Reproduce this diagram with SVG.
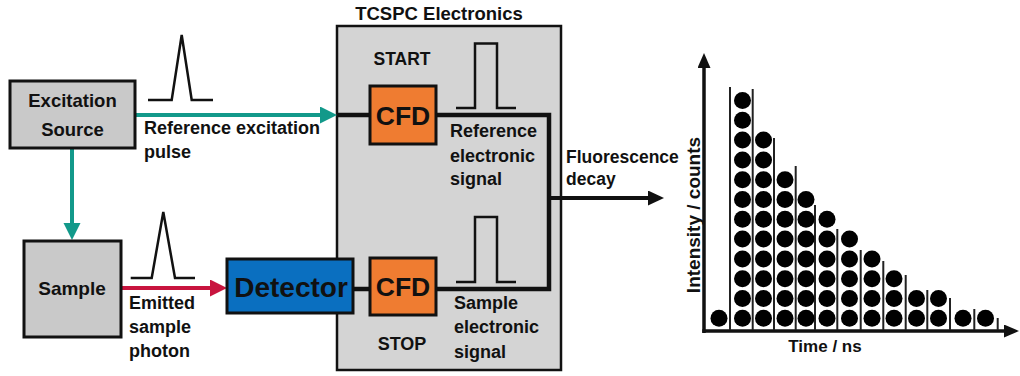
<svg xmlns="http://www.w3.org/2000/svg" width="1020" height="376" viewBox="0 0 1020 376">
<style>
text{font-family:"Liberation Sans",Arial,sans-serif;font-weight:bold;fill:#111;}
.box{stroke:#111;stroke-width:3;}
.gray{fill:#c9c9c9;}
.lbl{font-size:18px;}
.pulse{fill:none;stroke:#111;stroke-width:2.5;stroke-linejoin:miter;}
.sig{fill:none;stroke:#111;stroke-width:4.5;stroke-linejoin:miter;}
.dot{fill:#000;}
.sep{stroke:#222;stroke-width:2;}
</style>
<defs>
<marker id="mTeal" markerUnits="userSpaceOnUse" markerWidth="18" markerHeight="18" refX="9" refY="8.5" orient="auto"><path d="M0,0 L17,8.5 L0,17 Z" fill="#12998a"/></marker>
<marker id="mRed" markerUnits="userSpaceOnUse" markerWidth="18" markerHeight="18" refX="9" refY="8.5" orient="auto"><path d="M0,0 L17,8.5 L0,17 Z" fill="#c8143e"/></marker>
<marker id="mBlk" markerUnits="userSpaceOnUse" markerWidth="18" markerHeight="18" refX="8" refY="7.5" orient="auto"><path d="M0,0 L16,7.5 L0,15 Z" fill="#111"/></marker>
<marker id="mAx" markerUnits="userSpaceOnUse" markerWidth="16" markerHeight="16" refX="7" refY="6.5" orient="auto"><path d="M0,0 L15,6.5 L0,13 Z" fill="#111"/></marker>
</defs>
<rect width="1020" height="376" fill="#fff"/>

<g id="tcspc">
<rect x="337" y="26" width="224" height="344" fill="#d4d4d4" stroke="#111" stroke-width="2.5"/>
<text x="439" y="20" font-size="18.5" text-anchor="middle">TCSPC Electronics</text>
<text x="402" y="65" font-size="17.5" text-anchor="middle">START</text>
<text x="402" y="350" font-size="18" text-anchor="middle">STOP</text>
</g>

<g id="connectors">
<line x1="135" y1="115" x2="329" y2="115" stroke="#12998a" stroke-width="4" marker-end="url(#mTeal)"/>
<line x1="72" y1="148" x2="72" y2="232" stroke="#12998a" stroke-width="4" marker-end="url(#mTeal)"/>
<line x1="121" y1="288" x2="219" y2="288" stroke="#c8143e" stroke-width="4" marker-end="url(#mRed)"/>
<path class="sig" d="M337,115 H372 M434,115 H549 V289 H434 M351,289 H372"/>
<line x1="549" y1="198" x2="656" y2="198" stroke="#111" stroke-width="4" marker-end="url(#mBlk)"/>
</g>

<g id="excitation-source">
<rect class="box gray" x="10" y="81" width="125" height="67"/>
<text x="72.5" y="107" font-size="18.5" text-anchor="middle">Excitation</text>
<text x="72.5" y="136" font-size="18.5" text-anchor="middle">Source</text>
</g>

<g id="sample">
<rect class="box gray" x="24" y="241" width="97" height="96"/>
<text x="72" y="295" font-size="19" text-anchor="middle">Sample</text>
</g>

<g id="detector">
<rect class="box" x="227" y="259" width="126" height="54" fill="#0a6fc0"/>
<text x="291" y="297" font-size="28" text-anchor="middle">Detector</text>
</g>

<g id="cfd-start">
<rect class="box" x="370" y="86" width="66" height="58" fill="#ef7c31"/>
<text x="403" y="125" font-size="26.5" text-anchor="middle">CFD</text>
</g>

<g id="cfd-stop">
<rect class="box" x="370" y="258" width="66" height="57" fill="#ef7c31"/>
<text x="403" y="296" font-size="26.5" text-anchor="middle">CFD</text>
</g>

<g id="labels">
<polyline class="pulse" points="148,100 171.7,100 181.7,35 191.7,100 213,100"/>
<text class="lbl" x="144" y="134">Reference excitation</text>
<text class="lbl" x="144" y="158">pulse</text>
<polyline class="pulse" points="130.7,278 151.7,278 163.3,212 175,278 195,278"/>
<text class="lbl" x="129" y="309">Emitted</text>
<text class="lbl" x="129" y="333">sample</text>
<text class="lbl" x="129" y="357">photon</text>
<polyline class="pulse" points="456,108 475,108 475,43.5 497,43.5 497,108 516,108"/>
<text class="lbl" x="450" y="137">Reference</text>
<text class="lbl" x="450" y="162">electronic</text>
<text class="lbl" x="450" y="185">signal</text>
<polyline class="pulse" points="456,282 475,282 475,217 497,217 497,282 516,282"/>
<text class="lbl" x="454" y="309">Sample</text>
<text class="lbl" x="454" y="333">electronic</text>
<text class="lbl" x="454" y="358">signal</text>
<text x="566" y="163" font-size="17.5">Fluorescence</text>
<text x="566" y="185" font-size="17.5">decay</text>
</g>

<g id="histogram">
<line x1="704" y1="333" x2="704" y2="61" stroke="#111" stroke-width="3.5" marker-end="url(#mAx)"/>
<line x1="702.3" y1="331" x2="1011" y2="331" stroke="#111" stroke-width="3.5" marker-end="url(#mAx)"/>
<text transform="translate(700,215) rotate(-90)" font-size="19" text-anchor="middle">Intensity / counts</text>
<text x="825" y="352" font-size="17" text-anchor="middle">Time / ns</text>
<g>
<line class="sep" x1="730" y1="87" x2="730" y2="330"/>
<line class="sep" x1="752.7" y1="89" x2="752.7" y2="330"/>
<line class="sep" x1="774" y1="138" x2="774" y2="330"/>
<line class="sep" x1="795.7" y1="166" x2="795.7" y2="330"/>
<line class="sep" x1="815" y1="205" x2="815" y2="330"/>
<line class="sep" x1="837.3" y1="229" x2="837.3" y2="330"/>
<line class="sep" x1="860.7" y1="250" x2="860.7" y2="330"/>
<line class="sep" x1="883.3" y1="261" x2="883.3" y2="330"/>
<line class="sep" x1="905.7" y1="275" x2="905.7" y2="330"/>
<line class="sep" x1="927.3" y1="290" x2="927.3" y2="330"/>
<line class="sep" x1="950" y1="298" x2="950" y2="330"/>
<line class="sep" x1="974.3" y1="309" x2="974.3" y2="330"/>
<line class="sep" x1="997.7" y1="318" x2="997.7" y2="330"/>
</g>
<g>
<circle class="dot" cx="719" cy="318.3" r="8.5"/>
<circle class="dot" cx="742.5" cy="318.3" r="8.5"/><circle class="dot" cx="742.5" cy="298.5" r="8.5"/><circle class="dot" cx="742.5" cy="278.7" r="8.5"/><circle class="dot" cx="742.5" cy="258.9" r="8.5"/><circle class="dot" cx="742.5" cy="239.1" r="8.5"/><circle class="dot" cx="742.5" cy="219.3" r="8.5"/><circle class="dot" cx="742.5" cy="199.5" r="8.5"/><circle class="dot" cx="742.5" cy="179.7" r="8.5"/><circle class="dot" cx="742.5" cy="159.9" r="8.5"/><circle class="dot" cx="742.5" cy="140.1" r="8.5"/><circle class="dot" cx="742.5" cy="120.3" r="8.5"/><circle class="dot" cx="742.5" cy="100.5" r="8.5"/>
<circle class="dot" cx="763.5" cy="318.3" r="8.5"/><circle class="dot" cx="763.5" cy="298.5" r="8.5"/><circle class="dot" cx="763.5" cy="278.7" r="8.5"/><circle class="dot" cx="763.5" cy="258.9" r="8.5"/><circle class="dot" cx="763.5" cy="239.1" r="8.5"/><circle class="dot" cx="763.5" cy="219.3" r="8.5"/><circle class="dot" cx="763.5" cy="199.5" r="8.5"/><circle class="dot" cx="763.5" cy="179.7" r="8.5"/><circle class="dot" cx="763.5" cy="159.9" r="8.5"/><circle class="dot" cx="763.5" cy="140.1" r="8.5"/>
<circle class="dot" cx="785" cy="318.3" r="8.5"/><circle class="dot" cx="785" cy="298.5" r="8.5"/><circle class="dot" cx="785" cy="278.7" r="8.5"/><circle class="dot" cx="785" cy="258.9" r="8.5"/><circle class="dot" cx="785" cy="239.1" r="8.5"/><circle class="dot" cx="785" cy="219.3" r="8.5"/><circle class="dot" cx="785" cy="199.5" r="8.5"/><circle class="dot" cx="785" cy="179.7" r="8.5"/>
<circle class="dot" cx="806" cy="318.3" r="8.5"/><circle class="dot" cx="806" cy="298.5" r="8.5"/><circle class="dot" cx="806" cy="278.7" r="8.5"/><circle class="dot" cx="806" cy="258.9" r="8.5"/><circle class="dot" cx="806" cy="239.1" r="8.5"/><circle class="dot" cx="806" cy="219.3" r="8.5"/><circle class="dot" cx="806" cy="199.5" r="8.5"/>
<circle class="dot" cx="827" cy="318.3" r="8.5"/><circle class="dot" cx="827" cy="298.5" r="8.5"/><circle class="dot" cx="827" cy="278.7" r="8.5"/><circle class="dot" cx="827" cy="258.9" r="8.5"/><circle class="dot" cx="827" cy="239.1" r="8.5"/><circle class="dot" cx="827" cy="219.3" r="8.5"/>
<circle class="dot" cx="849.5" cy="318.3" r="8.5"/><circle class="dot" cx="849.5" cy="298.5" r="8.5"/><circle class="dot" cx="849.5" cy="278.7" r="8.5"/><circle class="dot" cx="849.5" cy="258.9" r="8.5"/><circle class="dot" cx="849.5" cy="239.1" r="8.5"/>
<circle class="dot" cx="872" cy="318.3" r="8.5"/><circle class="dot" cx="872" cy="298.5" r="8.5"/><circle class="dot" cx="872" cy="278.7" r="8.5"/><circle class="dot" cx="872" cy="258.9" r="8.5"/>
<circle class="dot" cx="894" cy="318.3" r="8.5"/><circle class="dot" cx="894" cy="298.5" r="8.5"/><circle class="dot" cx="894" cy="278.7" r="8.5"/>
<circle class="dot" cx="916.5" cy="318.3" r="8.5"/><circle class="dot" cx="916.5" cy="298.5" r="8.5"/>
<circle class="dot" cx="938.5" cy="318.3" r="8.5"/><circle class="dot" cx="938.5" cy="298.5" r="8.5"/>
<circle class="dot" cx="963" cy="318.3" r="8.5"/>
<circle class="dot" cx="985.5" cy="318.3" r="8.5"/>
</g>
</g>
</svg>
